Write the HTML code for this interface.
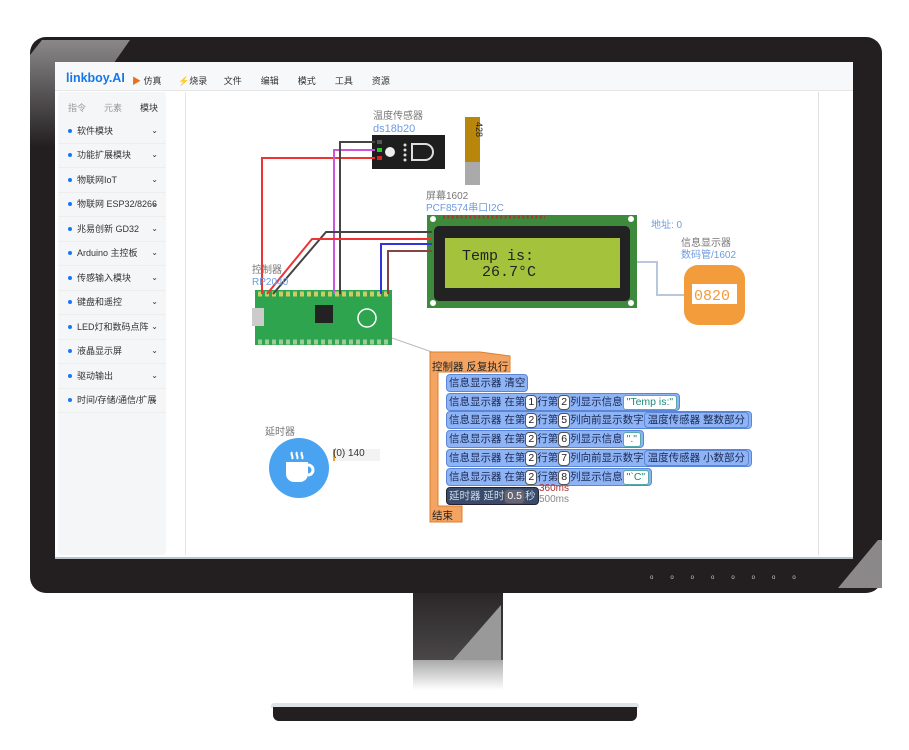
<!DOCTYPE html>
<html><head><meta charset="utf-8"><style>
body{margin:0;width:909px;height:750px;background:#fff;position:relative;overflow:hidden;font-family:"Liberation Sans","Noto Sans CJK SC",sans-serif}
.a{position:absolute}
.side div.it{position:absolute;left:0;width:108px;height:24px;font-size:9px;color:#333;border-bottom:1px solid #eee;line-height:24px}
.it b{display:inline-block;width:4px;height:4px;border-radius:50%;background:#1677ff;margin:0 5px 1px 10px}
.it i{position:absolute;right:8px;font-style:normal;font-size:8px}
.row{position:absolute;left:446px;height:16px;background:#8fb4f5;border:1px solid #5b86d8;border-radius:4px;font-size:10.5px;color:#1a2a55;line-height:16px;white-space:nowrap;padding:0 2px}
.n{display:inline-block;background:#fff;border:1px solid #555;border-radius:4px;padding:0 2px;line-height:13px;color:#222}
.s{display:inline-block;background:#fff;border:1px solid #5aa;border-radius:3px;padding:0 3px;line-height:13px;color:#1a8a7a}
.sub{display:inline-block;background:#8fb4f5;border:1px solid #5b86d8;border-radius:4px;padding:0 3px;line-height:14px}
</style></head><body>
<div class="a" style="left:30px;top:37px;width:852px;height:556px;background:#231f20;border-radius:16px"></div>
<svg class="a" style="left:30px;top:37px" width="852" height="556"><defs><linearGradient id="g" x1="0" y1="0" x2="0" y2="1"><stop offset="0" stop-color="#8a8889"/><stop offset="1" stop-color="#231f20"/></linearGradient></defs><polygon points="0,18 12,3 100,3 25,110 0,110" fill="url(#g)"/><polygon points="848,503 852,503 852,551 808,551" fill="#8a8889"/></svg>
<div class="a" style="left:55px;top:62px;width:798px;height:495px;background:#fff;border-bottom:2px solid #b8c4cc"></div>
<div class="a" style="left:55px;top:62px;width:798px;height:28px;background:#f7f8fa;border-bottom:1px solid #e6e6e6"></div>
<div class="a" style="left:66px;top:71px;font-size:12.5px;font-weight:bold;color:#1677e8">linkboy.AI</div>
<div class="a" style="left:132px;top:74px;font-size:9px;color:#333"><span style="color:#e8701a">▶</span> 仿真 <span style="margin-left:14px;color:#1677ff">⚡</span>烧录 <span style="margin-left:14px">文件</span><span style="margin-left:19px">编辑</span><span style="margin-left:19px">模式</span><span style="margin-left:19px">工具</span><span style="margin-left:19px">资源</span></div>
<div class="a side" style="left:58px;top:92px;width:108px;height:463px;background:#f5f6f8;border-radius:3px">
<div class="a" style="left:10px;top:9px;font-size:9px;color:#999">指令</div><div class="a" style="left:46px;top:9px;font-size:9px;color:#999">元素</div><div class="a" style="left:82px;top:9px;font-size:9px;color:#333">模块</div>
<div class="it" style="top:27px"><b></b>软件模块<i>⌄</i></div>
<div class="it" style="top:51px"><b></b>功能扩展模块<i>⌄</i></div>
<div class="it" style="top:76px"><b></b>物联网IoT<i>⌄</i></div>
<div class="it" style="top:100px"><b></b>物联网 ESP32/8266<i>⌄</i></div>
<div class="it" style="top:125px"><b></b>兆易创新 GD32<i>⌄</i></div>
<div class="it" style="top:149px"><b></b>Arduino 主控板<i>⌄</i></div>
<div class="it" style="top:174px"><b></b>传感输入模块<i>⌄</i></div>
<div class="it" style="top:198px"><b></b>键盘和遥控<i>⌄</i></div>
<div class="it" style="top:223px"><b></b>LED灯和数码点阵<i>⌄</i></div>
<div class="it" style="top:247px"><b></b>液晶显示屏<i>⌄</i></div>
<div class="it" style="top:272px"><b></b>驱动输出<i>⌄</i></div>
<div class="it" style="top:296px"><b></b>时间/存储/通信/扩展<i>⌄</i></div>
</div>
<div class="a" style="left:185px;top:92px;width:1px;height:463px;background:#e5e5e5"></div>
<div class="a" style="left:818px;top:92px;width:1px;height:463px;background:#e0e0e0"></div>
<svg class="a" style="left:0;top:0" width="909" height="600">
<rect x="372" y="135" width="73" height="34" fill="#1e1e1e"/>
<circle cx="390" cy="152" r="5" fill="#eee"/>
<g fill="#ddd"><circle cx="405" cy="145" r="1.5"/><circle cx="405" cy="150" r="1.5"/><circle cx="405" cy="155" r="1.5"/><circle cx="405" cy="160" r="1.5"/></g>
<rect x="377" y="140" width="5" height="4" fill="#555"/><rect x="377" y="148" width="5" height="4" fill="#2c2"/><rect x="377" y="156" width="5" height="4" fill="#d22"/>
<path d="M412 144h13a8 8 0 0 1 0 16h-13z" fill="none" stroke="#ddd" stroke-width="2"/>
<rect x="465" y="117" width="15" height="45" fill="#b8860b"/><rect x="465" y="162" width="15" height="23" fill="#aaa"/>
<text x="468" y="122" font-size="9" transform="rotate(90 472 126)" fill="#222">428</text>
<rect x="427" y="215" width="210" height="93" fill="#3d8a3d"/>
<rect x="434" y="226" width="196" height="75" rx="5" fill="#222"/>
<rect x="445" y="238" width="175" height="50" fill="#a4c23c"/>
<g fill="#fff"><circle cx="433" cy="219" r="3"/><circle cx="631" cy="219" r="3"/><circle cx="433" cy="303" r="3"/><circle cx="631" cy="303" r="3"/></g>
<line x1="443" y1="217" x2="545" y2="217" stroke="#a33" stroke-width="3" stroke-dasharray="2 2.4"/>
<text x="462" y="260" font-family="Liberation Mono" font-size="15" fill="#222">Temp is:</text>
<text x="482" y="276" font-family="Liberation Mono" font-size="15" fill="#222">26.7°C</text>
<rect x="255" y="290" width="137" height="55" fill="#2ea44f"/>
<rect x="252" y="308" width="12" height="18" fill="#ccc"/>
<rect x="315" y="305" width="18" height="18" fill="#222"/>
<circle cx="367" cy="318" r="9" fill="none" stroke="#fff" stroke-width="1.5"/>
<line x1="258" y1="294" x2="390" y2="294" stroke="#cc6" stroke-width="5" stroke-dasharray="4 3"/>
<line x1="258" y1="342" x2="390" y2="342" stroke="#9c9" stroke-width="5" stroke-dasharray="4 3"/>
<g fill="none" stroke-width="2">
<polyline points="375,158 262,158 262,294" stroke="#e33"/>
<polyline points="375,150 334,150 334,294" stroke="#c5d"/>
<polyline points="375,142 340,142 340,294" stroke="#444"/>
<polyline points="432,232 326,232 273,294" stroke="#444"/>
<polyline points="432,239 312,239 267,294" stroke="#e33"/>
<polyline points="432,244 381,244 381,294" stroke="#33d"/>
<polyline points="432,251 388,251 388,294" stroke="#844"/>
<polyline points="637,262 657,262 657,295 684,295" stroke="#b8c8dc"/>
<line x1="392" y1="338" x2="432" y2="352" stroke="#bbb" stroke-width="1"/>
</g>
<rect x="684" y="265" width="61" height="60" rx="14" fill="#f39c3c"/>
<rect x="692" y="284" width="45" height="20" fill="#fff"/>
<text x="694" y="300" font-size="15" fill="#f39c3c" font-family="Liberation Mono">0820</text>
<circle cx="299" cy="468" r="30" fill="#4aa3f0"/>
<path d="M286 462h22v12a8 8 0 0 1-8 8h-6a8 8 0 0 1-8-8z" fill="#fff"/><path d="M308 465a5 5 0 0 1 0 10" stroke="#fff" stroke-width="3" fill="none"/>
<path d="M292 452c-2 3 2 4 0 7M297 452c-2 3 2 4 0 7M302 452c-2 3 2 4 0 7" stroke="#fff" stroke-width="2" fill="none"/>
<rect x="333" y="449" width="47" height="12" fill="#f3f3f3"/><rect x="333" y="449" width="2" height="12" fill="#f0a030"/>
<path d="M430 352h50l30 4v16h-72v134h24v16h-32v-16V352z" fill="#f4a460" stroke="#d98030"/>
</svg>
<div class="a" style="left:373px;top:111px;font-size:10px;color:#777;line-height:12px">温度传感器<br><span style="color:#6d9be0;font-size:11px">ds18b20</span></div>
<div class="a" style="left:426px;top:191px;font-size:10px;color:#777;line-height:12px">屏幕1602<br><span style="color:#6d9be0">PCF8574串口I2C</span></div>
<div class="a" style="left:651px;top:216px;font-size:10px;color:#6d9be0">地址: 0</div>
<div class="a" style="left:681px;top:238px;font-size:10px;color:#777;line-height:12px">信息显示器<br><span style="color:#6d9be0">数码管/1602</span></div>
<div class="a" style="left:252px;top:265px;font-size:10px;color:#777;line-height:12px">控制器<br><span style="color:#6d9be0">RP2040</span></div>
<div class="a" style="left:265px;top:423px;font-size:10px;color:#777">延时器</div>
<div class="a" style="left:333px;top:448px;font-size:10px;color:#333">(0) 140</div>
<div class="a" style="left:432px;top:359px;font-size:10.5px;color:#222">控制器 反复执行</div>
<div class="a" style="left:432px;top:508px;font-size:10.5px;color:#222">结束</div>
<div class="row" style="top:374px">信息显示器 清空</div>
<div class="row" style="top:393px">信息显示器 在第<span class="n">1</span>行第<span class="n">2</span>列显示信息<span class="s">"Temp is:"</span></div>
<div class="row" style="top:411px">信息显示器 在第<span class="n">2</span>行第<span class="n">5</span>列向前显示数字<span class="sub">温度传感器 整数部分</span></div>
<div class="row" style="top:430px">信息显示器 在第<span class="n">2</span>行第<span class="n">6</span>列显示信息<span class="s">"."</span></div>
<div class="row" style="top:449px">信息显示器 在第<span class="n">2</span>行第<span class="n">7</span>列向前显示数字<span class="sub">温度传感器 小数部分</span></div>
<div class="row" style="top:468px">信息显示器 在第<span class="n">2</span>行第<span class="n">8</span>列显示信息<span class="s">"`C"</span></div>
<div class="row" style="top:487px;background:#3a4a6a;border-color:#223;color:#cde">延时器 延时<span class="n" style="background:#667;color:#fff">0.5</span>秒</div>
<div class="a" style="left:539px;top:483px;font-size:10px;color:#a33;line-height:11px">360ms<br><span style="color:#888">500ms</span></div>
<div class="a" style="left:650px;top:575px;font-size:6px;color:#ccc;letter-spacing:17px">oooooooo</div>
<div class="a" style="left:413px;top:593px;width:90px;height:67px;background:linear-gradient(#2a2728,#4a4748)"></div>
<svg class="a" style="left:413px;top:593px" width="90" height="67"><polygon points="88,12 88,67 40,67" fill="#999"/></svg>
<div class="a" style="left:413px;top:660px;width:90px;height:30px;background:linear-gradient(#aaa,#fff)"></div>
<div class="a" style="left:271px;top:703px;width:368px;height:5px;background:#dde3e6;border-radius:3px 3px 0 0"></div>
<div class="a" style="left:273px;top:707px;width:364px;height:14px;background:#231f20;border-radius:0 0 6px 6px"></div>
</body></html>
